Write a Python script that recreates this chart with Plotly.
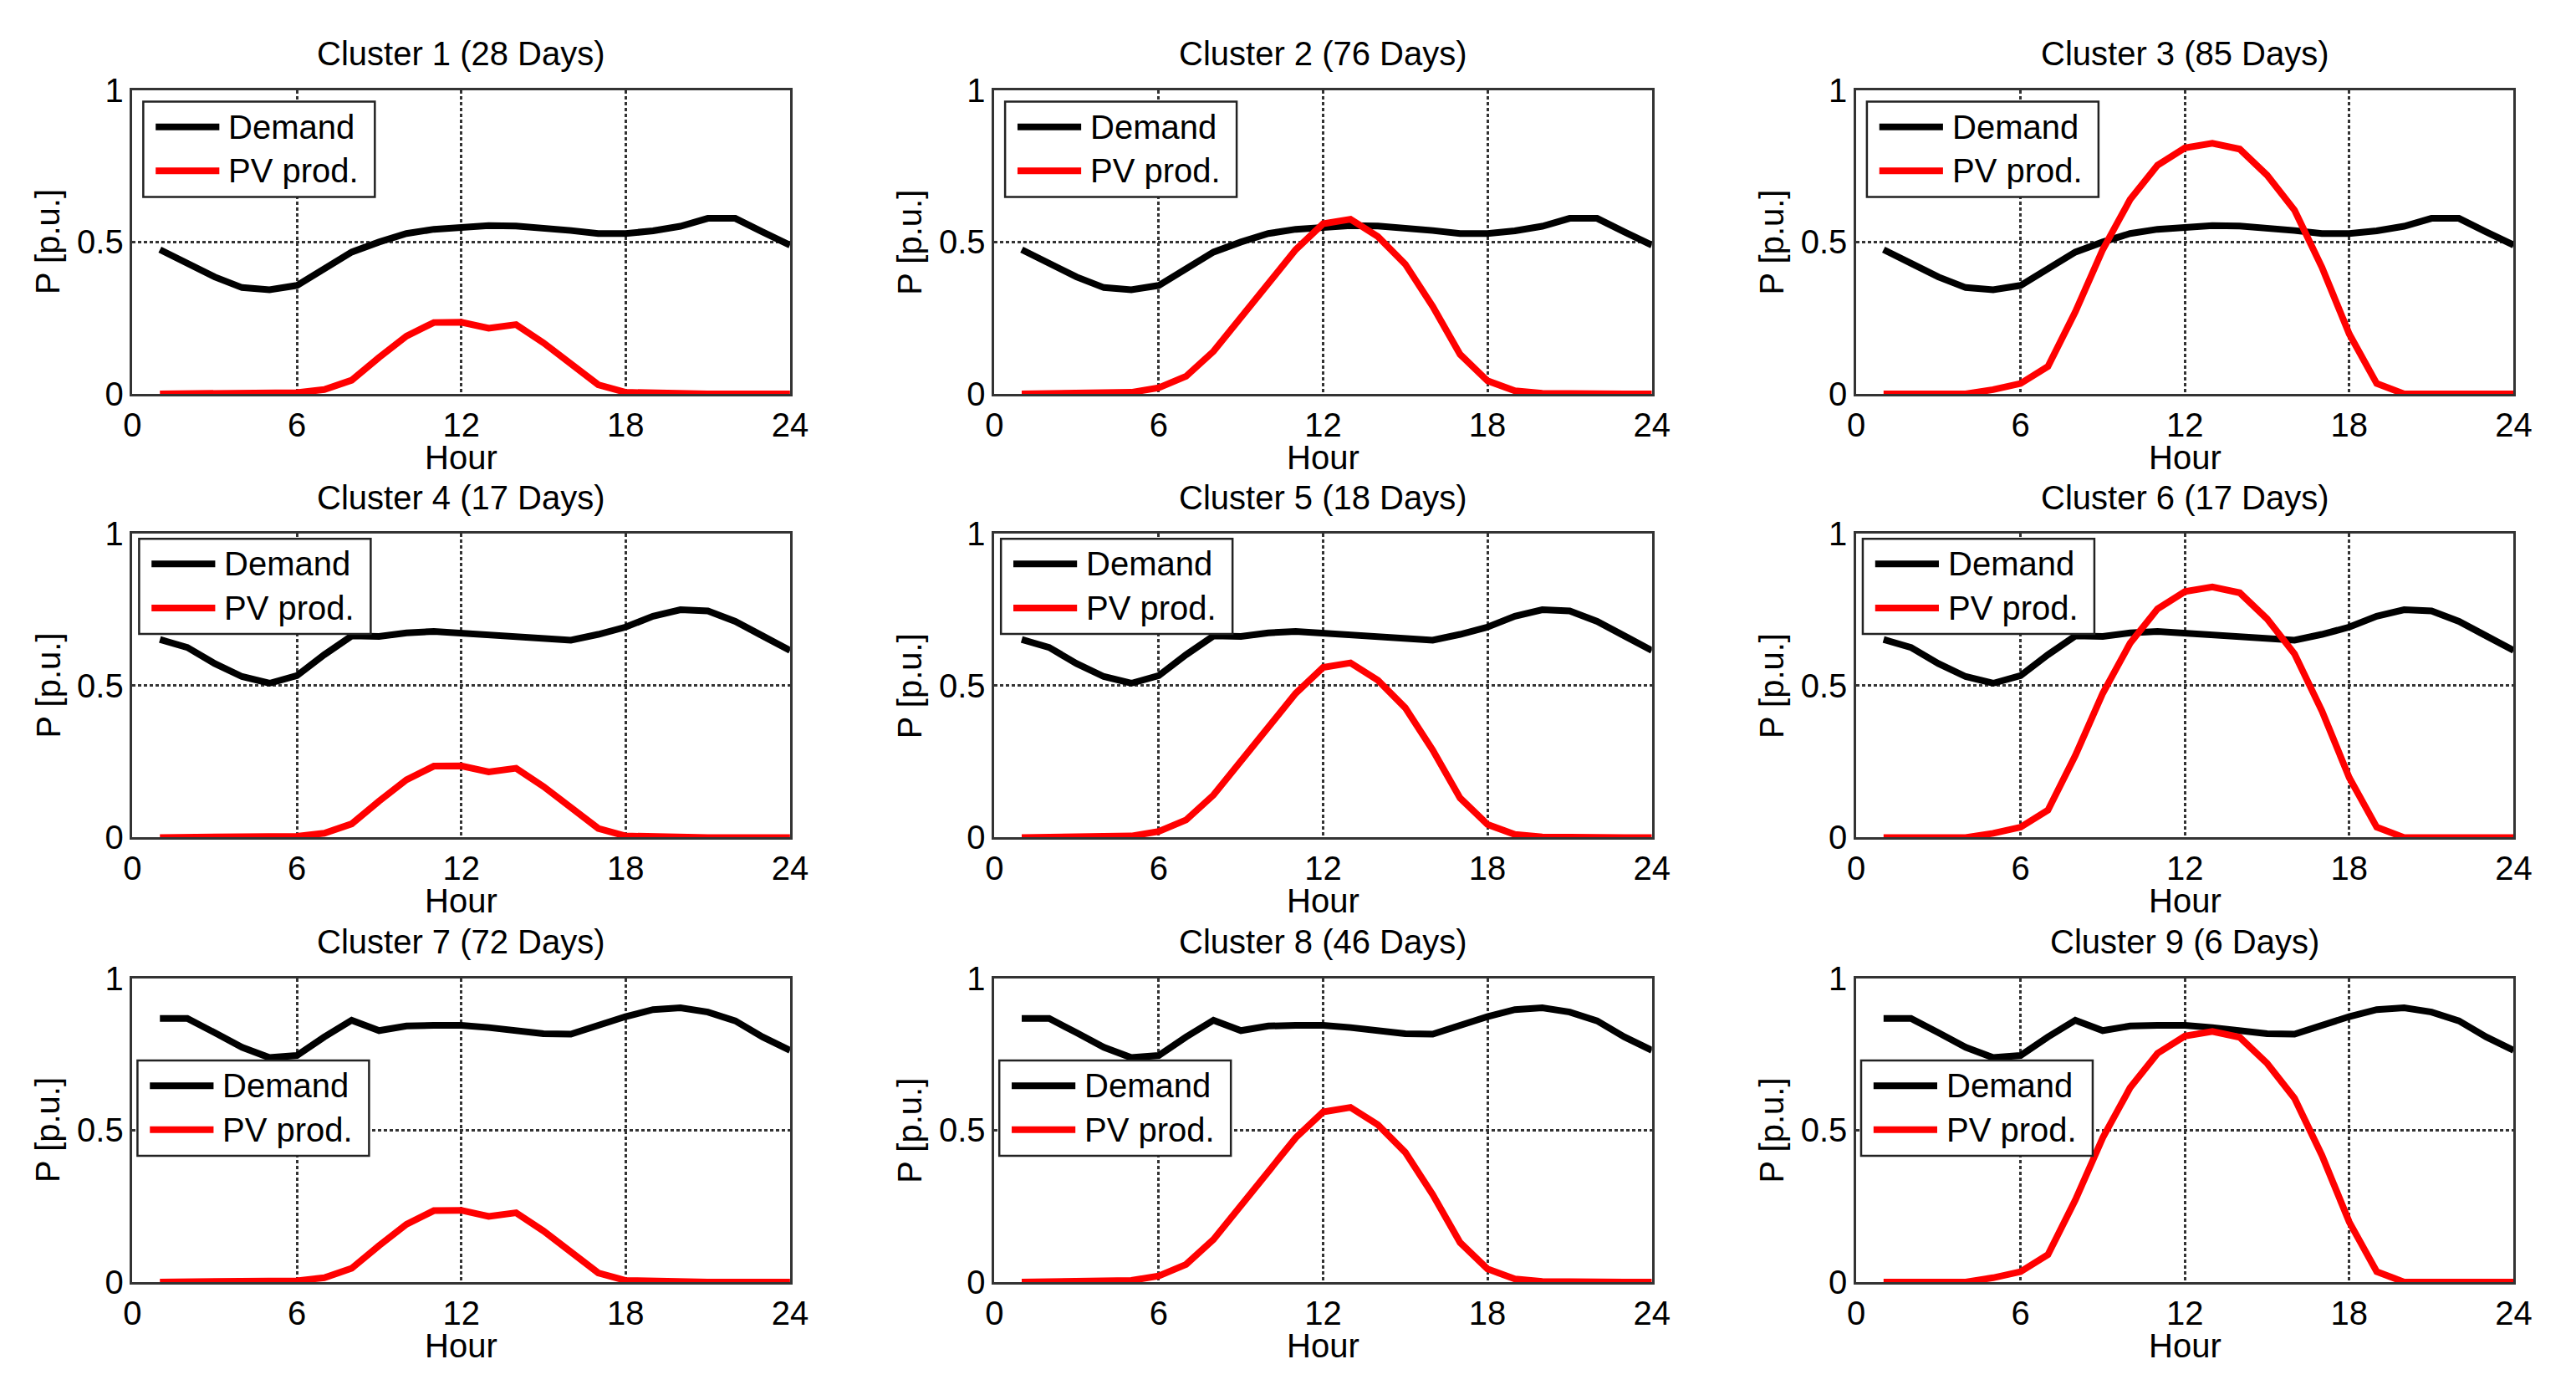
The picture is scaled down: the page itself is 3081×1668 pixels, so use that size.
import plotly.graph_objects as go

# hourly profiles, hours 1..24
hours = list(range(1, 25))

# demand profile per row of clusters
demand_row1 = [0.475, 0.43, 0.385, 0.35, 0.343, 0.357, 0.41, 0.467, 0.5, 0.528, 0.542, 0.548,
               0.554, 0.553, 0.548, 0.538, 0.528, 0.528, 0.537, 0.552, 0.578, 0.578, 0.533, 0.49]
demand_row2 = [0.652, 0.626, 0.573, 0.53, 0.508, 0.533, 0.602, 0.664, 0.662, 0.674, 0.679, 0.674,
               0.667, 0.662, 0.657, 0.65, 0.669, 0.693, 0.729, 0.75, 0.746, 0.712, 0.664, 0.616]
demand_row3 = [0.868, 0.868, 0.821, 0.773, 0.739, 0.746, 0.807, 0.862, 0.828, 0.843, 0.845, 0.845,
               0.838, 0.828, 0.818, 0.816, 0.845, 0.874, 0.897, 0.903, 0.889, 0.86, 0.807, 0.763]

# PV production profile per column of clusters
pv_col1 = [0, 0, 0, 0, 0.002, 0.004, 0.014, 0.045, 0.12, 0.19, 0.235, 0.236,
           0.216, 0.228, 0.168, 0.098, 0.03, 0.005, 0.002, 0, 0, 0, 0, 0]
pv_col2 = [0, 0, 0, 0, 0.005, 0.02, 0.058, 0.14, 0.254, 0.365, 0.475, 0.56,
           0.575, 0.518, 0.427, 0.288, 0.13, 0.043, 0.01, 0.002, 0, 0, 0, 0]
pv_col3 = [0, 0, 0, 0, 0.014, 0.034, 0.09, 0.27, 0.475, 0.64, 0.753, 0.81,
           0.825, 0.806, 0.72, 0.605, 0.417, 0.197, 0.034, 0, 0, 0, 0, 0]

cluster_days = [28, 76, 85, 17, 18, 17, 72, 46, 6]
x_ticks = [0, 6, 12, 18, 24]
y_ticks = [0, 0.5, 1]
y_ticktext = ["0", "0.5", "1"]
series_names = ["Demand", "PV prod."]
series_colors = ["black", "#ff0000"]

demands = [demand_row1, demand_row2, demand_row3]
pvs = [pv_col1, pv_col2, pv_col3]

# the page body keeps its default 8px margin, so the figure is 16px smaller
# than the window and everything is placed 8px up/left of the target spot
PAGE_W, PAGE_H = 3081, 1668
BODY = 8
W, H = PAGE_W - 2 * BODY, PAGE_H - 2 * BODY
FONT = "Liberation Sans, Arial, Helvetica, sans-serif"
FS = 40
LW = 8

# axes placement in page pixels
col_left = [149, 1191, 2233]
axw = 795
row_top = [88, 633, 1179]
axh = 373
# legend box offset inside the axes (px) per row, and its size
leg_off = [(13, 14), (8, 6), (6, 101)]
leg_w, leg_h = 280, 117


def px_x(p):
    return (p - BODY) / W


def px_y(p):
    return 1 - (p - BODY) / H


fig = go.Figure()
annotations = []
shapes = []

for r in range(3):
    for c in range(3):
        k = r * 3 + c + 1
        sfx = "" if k == 1 else str(k)
        x0, x1 = col_left[c], col_left[c] + axw
        y0, y1 = row_top[r], row_top[r] + axh

        for name, color, ys in zip(series_names, series_colors, [demands[r], pvs[c]]):
            fig.add_trace(go.Scatter(x=hours, y=ys, mode="lines", name=name,
                                     line=dict(color=color, width=LW), showlegend=False,
                                     xaxis="x" + sfx, yaxis="y" + sfx))

        axis_style = dict(showline=True, linecolor="#333333", linewidth=2.5, mirror=True,
                          showgrid=True, gridcolor="#333333", gridwidth=2.5, griddash="4px,3px",
                          zeroline=False, ticks="", tickfont=dict(size=FS, color="black"))
        fig.update_layout(**{
            "xaxis" + sfx: dict(domain=[px_x(x0), px_x(x1)], range=[0, 24], tickvals=x_ticks,
                                anchor="y" + sfx, **axis_style),
            "yaxis" + sfx: dict(domain=[px_y(y1), px_y(y0)], range=[0, 1], tickvals=y_ticks,
                                ticktext=y_ticktext, anchor="x" + sfx, **axis_style),
        })

        # MATLAB-style legend box with long line samples
        lx, ly = x0 + leg_off[r][0], y0 + leg_off[r][1]
        shapes.append(dict(type="rect", xref="paper", yref="paper",
                           x0=px_x(lx), x1=px_x(lx + leg_w), y0=px_y(ly + leg_h), y1=px_y(ly),
                           line=dict(color="#222222", width=2.5), fillcolor="white", layer="above"))
        for i, (name, color) in enumerate(zip(series_names, series_colors)):
            sy = ly + 31 + 54 * i
            shapes.append(dict(type="line", xref="paper", yref="paper",
                               x0=px_x(lx + 15), x1=px_x(lx + 92), y0=px_y(sy), y1=px_y(sy),
                               line=dict(color=color, width=LW), layer="above"))
            annotations.append(dict(text=name, x=px_x(lx + 101), y=px_y(sy),
                                    xref="paper", yref="paper", showarrow=False,
                                    xanchor="left", yanchor="middle", font=dict(size=FS)))

        xm = (x0 + x1) / 2
        annotations.append(dict(text=f"Cluster {k} ({cluster_days[k - 1]} Days)",
                                x=px_x(xm), y=px_y(y0 - 45), xref="paper", yref="paper",
                                showarrow=False, xanchor="center", yanchor="middle",
                                font=dict(size=FS)))
        annotations.append(dict(text="Hour", x=px_x(xm), y=px_y(y1 + 78),
                                xref="paper", yref="paper", showarrow=False,
                                xanchor="center", yanchor="middle", font=dict(size=FS)))
        annotations.append(dict(text="P [p.u.]", x=px_x(x0 - 102), y=px_y((y0 + y1) / 2),
                                xref="paper", yref="paper", showarrow=False, textangle=-90,
                                xanchor="center", yanchor="middle", font=dict(size=FS)))

fig.update_layout(
    width=W, height=H, margin=dict(l=0, r=0, t=0, b=0),
    plot_bgcolor="white", paper_bgcolor="white",
    font=dict(family=FONT, size=FS, color="black"),
    annotations=annotations, shapes=shapes, showlegend=False,
)

fig.write_html("out.html", config={"displayModeBar": False})
